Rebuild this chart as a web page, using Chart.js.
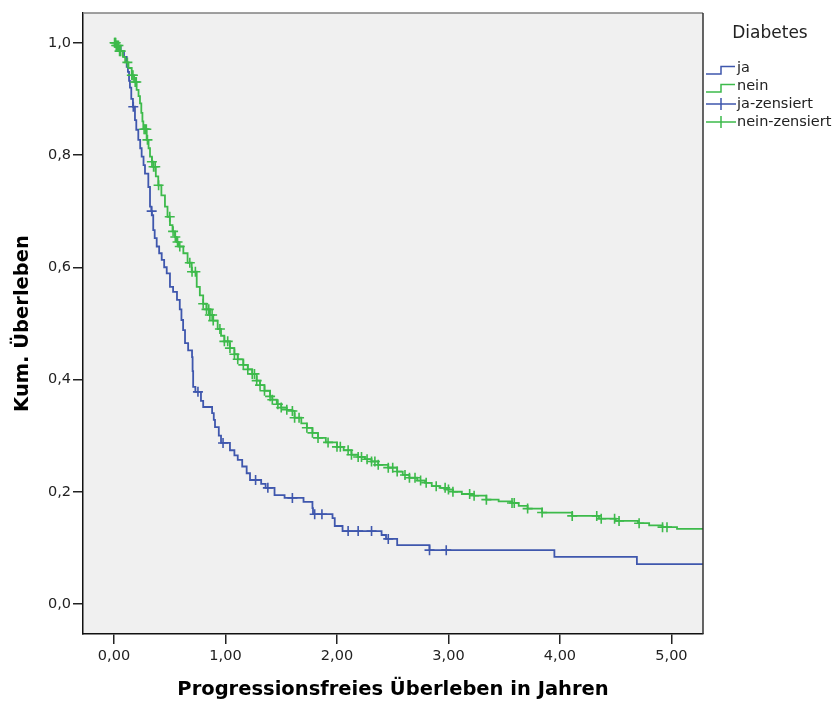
<!DOCTYPE html>
<html>
<head>
<meta charset="utf-8">
<script src="https://cdn.jsdelivr.net/npm/chart.js@4"></script>
<style>
  html, body { margin: 0; padding: 0; background: #fff; }
  canvas { display: block; }
</style>
</head>
<body>
<canvas id="km" width="835" height="705"></canvas>
<script>
// Kaplan-Meier: Progressionsfreies Überleben nach Diabetes
const X_TITLE = 'Progressionsfreies Überleben in Jahren';
const Y_TITLE = 'Kum. Überleben';
const LEGEND_TITLE = 'Diabetes';
const LEGEND_LABELS = ['ja', 'nein', 'ja-zensiert', 'nein-zensiert'];

const X_TICKS = [0, 1, 2, 3, 4, 5];
const Y_TICKS = [0, 0.2, 0.4, 0.6, 0.8, 1.0];

// group "ja" - step curve (time in years, cumulative survival)
const jaTime = [0, 0.03, 0.06, 0.09, 0.114, 0.125, 0.135, 0.143, 0.155, 0.17, 0.188, 0.2, 0.218,
  0.235, 0.248, 0.265, 0.278, 0.308, 0.323, 0.335, 0.34, 0.352, 0.365, 0.383, 0.405, 0.428, 0.45, 0.473,
  0.502, 0.53, 0.565, 0.59, 0.605, 0.62, 0.637, 0.665, 0.7, 0.705, 0.71, 0.73, 0.78, 0.8, 0.88,
  0.895, 0.906, 0.94, 0.96, 1.04, 1.08, 1.11, 1.15, 1.19, 1.22, 1.32, 1.36, 1.44, 1.53, 1.7, 1.78,
  1.785, 1.96, 1.98, 2.05, 2.4, 2.44, 2.54, 2.83, 3.95, 4.69, 5.283];
const jaSurv = [1.0, 0.993, 0.985, 0.975, 0.957, 0.948, 0.932, 0.92, 0.9, 0.886, 0.862, 0.845, 0.827,
  0.812, 0.797, 0.782, 0.767, 0.743, 0.708, 0.7, 0.693, 0.666, 0.652, 0.637, 0.625, 0.613, 0.6, 0.589,
  0.565, 0.556, 0.542, 0.525, 0.506, 0.488, 0.465, 0.452, 0.44, 0.415, 0.387, 0.378, 0.362, 0.351, 0.34,
  0.328, 0.315, 0.3, 0.287, 0.274, 0.265, 0.257, 0.245, 0.233, 0.221, 0.214, 0.207, 0.194, 0.189, 0.182, 0.171,
  0.16, 0.153, 0.139, 0.13, 0.123, 0.116, 0.105, 0.096, 0.084, 0.071, 0.071];
const jaCensored = [0.173, 0.338, 0.753, 0.978, 1.27, 1.38, 1.6, 1.8, 1.865, 2.1, 2.19, 2.31, 2.46, 2.83, 2.98];

// group "nein"
const neinTime = [0, 0.02, 0.05, 0.08, 0.1, 0.13, 0.159, 0.18, 0.203, 0.22, 0.233, 0.245, 0.255, 0.263,
  0.293, 0.31, 0.323, 0.34, 0.352, 0.375, 0.397, 0.425, 0.457, 0.48, 0.502, 0.525, 0.547, 0.562, 0.577,
  0.622, 0.66, 0.697, 0.742, 0.77, 0.8, 0.83, 0.86, 0.89,
  0.93, 0.96, 0.99, 1.04, 1.08, 1.11, 1.16, 1.2, 1.24, 1.28, 1.31, 1.35, 1.4, 1.42, 1.46, 1.5, 1.55, 1.6,
  1.62, 1.68, 1.73, 1.78, 1.83, 1.9, 2.0, 2.06, 2.13, 2.19, 2.25, 2.31, 2.37, 2.46, 2.54, 2.59, 2.65, 2.72,
  2.79, 2.85, 2.92, 2.99, 3.04, 3.12, 3.23, 3.34, 3.45, 3.57, 3.63, 3.71, 3.84, 4.11, 4.35, 4.5, 4.7, 4.8,
  4.92, 5.05, 5.283];
const neinSurv = [1.0, 0.995, 0.985, 0.975, 0.965, 0.955, 0.942, 0.93, 0.916, 0.905, 0.892, 0.875, 0.86, 0.846,
  0.827, 0.812, 0.797, 0.788, 0.779, 0.762, 0.746, 0.728, 0.708, 0.69, 0.675, 0.664, 0.654, 0.645, 0.637,
  0.625, 0.608, 0.592, 0.565, 0.55, 0.535, 0.525, 0.515, 0.505,
  0.49, 0.478, 0.468, 0.456, 0.445, 0.436, 0.426, 0.418, 0.41, 0.398, 0.39, 0.38, 0.37, 0.364, 0.356, 0.35, 0.346, 0.344,
  0.332, 0.322, 0.314, 0.305, 0.296, 0.288, 0.28, 0.274, 0.266, 0.262, 0.258, 0.254, 0.248, 0.243, 0.236, 0.23, 0.225, 0.22,
  0.216, 0.21, 0.207, 0.204, 0.2, 0.196, 0.193, 0.186, 0.183, 0.18, 0.175, 0.17, 0.163, 0.157, 0.152, 0.148, 0.144, 0.14,
  0.137, 0.134, 0.134];
const neinCensored = [0.005, 0.01, 0.015, 0.02, 0.03, 0.04, 0.05, 0.06, 0.12, 0.16, 0.17, 0.19, 0.2, 0.27, 0.28,
  0.29, 0.3, 0.34, 0.355, 0.37, 0.4, 0.5, 0.53, 0.55, 0.57, 0.59, 0.68, 0.7, 0.73, 0.8, 0.83, 0.85, 0.86, 0.88,
  0.89, 0.95, 0.99, 1.02, 1.04, 1.08, 1.11, 1.16, 1.2, 1.24, 1.26, 1.28, 1.31, 1.35, 1.4, 1.42, 1.47, 1.5, 1.55,
  1.6, 1.62, 1.66, 1.73, 1.78, 1.83, 1.92, 2.0, 2.03, 2.1, 2.13, 2.19, 2.22, 2.27, 2.31, 2.34, 2.37, 2.46, 2.5,
  2.54, 2.61, 2.65, 2.7, 2.75, 2.8, 2.89, 2.97, 3.0, 3.04, 3.19, 3.23, 3.34, 3.57, 3.59, 3.71, 3.84, 4.11, 4.33,
  4.37, 4.49, 4.53, 4.71, 4.92, 4.96];

const BLUE = '#3f57ad';
const GREEN = '#3dba4b';
const FONT = 'DejaVu Sans';
const TEXT = '#222';

const toPoints = (ts, ss) => ts.map((t, i) => ({ x: t, y: ss[i] }));
// survival value of a step curve at time t (for placing censor marks on the curve)
function survAt(ts, ss, t) {
  let v = ss[0];
  for (let i = 0; i < ts.length; i++) { if (ts[i] <= t) v = ss[i]; }
  return v;
}
const censorPoints = (cs, ts, ss) => cs.map(t => ({ x: t, y: survAt(ts, ss, t) }));

const frame = {
  id: 'frame',
  beforeDraw(chart) {
    const { ctx, chartArea: a } = chart;
    ctx.save();
    ctx.fillStyle = '#f0f0f0';
    ctx.fillRect(a.left, a.top, a.right - a.left, a.bottom - a.top);
    ctx.restore();
  },
  afterDraw(chart) {
    const { ctx, chartArea: a } = chart;
    ctx.save();
    ctx.lineWidth = 1.5;
    ctx.strokeStyle = '#808080';
    ctx.beginPath();
    ctx.moveTo(a.left, a.top); ctx.lineTo(a.right, a.top);
    ctx.stroke();
    ctx.strokeStyle = '#333';
    ctx.beginPath();
    ctx.moveTo(a.right, a.top); ctx.lineTo(a.right, a.bottom);
    ctx.stroke();

    // legend (SPSS style)
    ctx.fillStyle = TEXT;
    ctx.textBaseline = 'middle';
    ctx.textAlign = 'center';
    ctx.font = '17px "' + FONT + '"';
    ctx.fillText(LEGEND_TITLE, 770, 34);
    ctx.textAlign = 'left';
    ctx.font = '14.5px "' + FONT + '"';
    const colors = [BLUE, GREEN, BLUE, GREEN];
    LEGEND_LABELS.forEach((lab, i) => {
      const y = 68 + i * 18;
      ctx.strokeStyle = colors[i];
      ctx.lineWidth = 1.5;
      ctx.beginPath();
      if (i < 2) {
        ctx.moveTo(706, y + 6); ctx.lineTo(721, y + 6);
        ctx.lineTo(721, y - 1.5); ctx.lineTo(735, y - 1.5);
      } else {
        ctx.moveTo(706, y); ctx.lineTo(736, y);
        ctx.moveTo(721, y - 6); ctx.lineTo(721, y + 6);
      }
      ctx.stroke();
      ctx.fillText(lab, 737, y);
    });
    ctx.restore();
  }
};

new Chart(document.getElementById('km').getContext('2d'), {
  type: 'scatter',
  data: {
    datasets: [
      {
        label: 'nein-zensiert',
        data: censorPoints(neinCensored, neinTime, neinSurv),
        pointStyle: 'cross', pointRadius: 5, borderColor: GREEN, borderWidth: 1.6, showLine: false,
      },
      {
        label: 'ja-zensiert',
        data: censorPoints(jaCensored, jaTime, jaSurv),
        pointStyle: 'cross', pointRadius: 5, borderColor: BLUE, borderWidth: 1.6, showLine: false,
      },
      {
        label: 'nein',
        data: toPoints(neinTime, neinSurv),
        showLine: true, stepped: true, pointRadius: 0, borderColor: GREEN, borderWidth: 1.8,
      },
      {
        label: 'ja',
        data: toPoints(jaTime, jaSurv),
        showLine: true, stepped: true, pointRadius: 0, borderColor: BLUE, borderWidth: 1.8,
      },
    ],
  },
  options: {
    responsive: false,
    animation: false,
    layout: { padding: { left: 0, right: 132, top: 13, bottom: 0 } },
    plugins: { legend: { display: false }, tooltip: { enabled: false } },
    scales: {
      x: {
        type: 'linear',
        min: -0.278,
        max: 5.283,
        afterBuildTicks: s => { s.ticks = X_TICKS.map(v => ({ value: v })); },
        afterFit: s => { s.height = 71; },
        ticks: {
          color: TEXT, padding: 4, font: { family: FONT, size: 14.5 },
          callback: v => v.toFixed(2).replace('.', ','),
        },
        grid: { drawOnChartArea: false, drawTicks: true, tickLength: 10, color: '#222', lineWidth: 1.5 },
        border: { display: true, color: '#111', width: 1.5 },
        title: {
          display: true, text: X_TITLE, color: '#000',
          font: { family: FONT, size: 19.5, weight: 'bold' }, padding: { top: 0, bottom: 3 },
        },
      },
      y: {
        type: 'linear',
        min: -0.0534,
        max: 1.053,
        afterBuildTicks: s => { s.ticks = Y_TICKS.map(v => ({ value: v })); },
        afterFit: s => { s.width = 83; },
        ticks: {
          color: TEXT, padding: 2, font: { family: FONT, size: 14.5 },
          callback: v => v.toFixed(1).replace('.', ','),
        },
        grid: { drawOnChartArea: false, drawTicks: true, tickLength: 10, color: '#222', lineWidth: 1.5 },
        border: { display: true, color: '#111', width: 1.5 },
        title: {
          display: true, text: Y_TITLE, color: '#000',
          font: { family: FONT, size: 19.5, weight: 'bold' }, padding: { top: 11, bottom: 0 },
        },
      },
    },
  },
  plugins: [frame],
});
</script>
</body>
</html>
